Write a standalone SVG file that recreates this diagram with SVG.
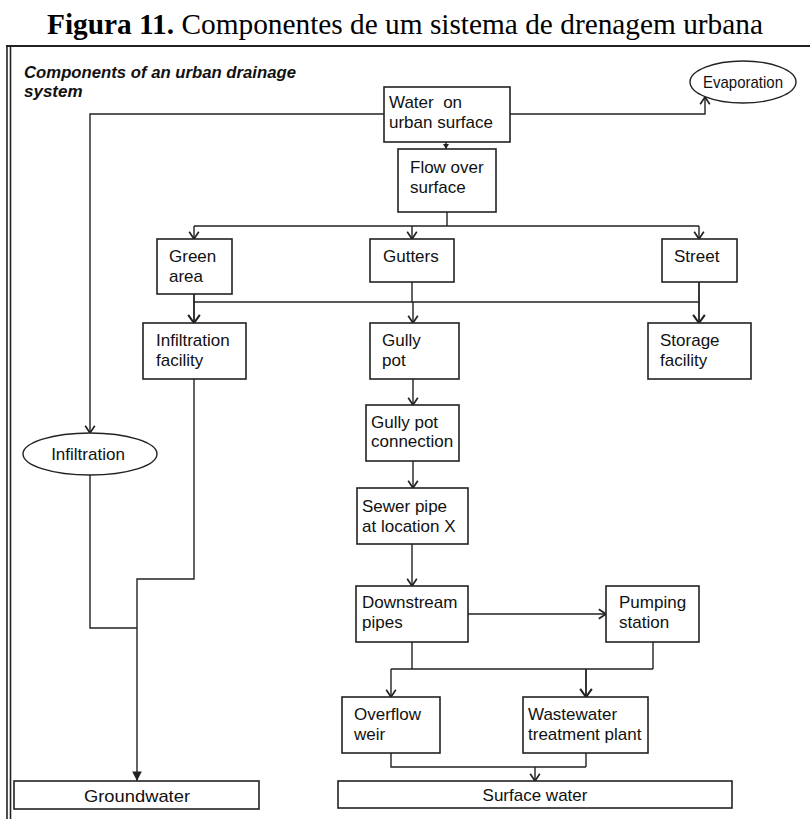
<svg xmlns="http://www.w3.org/2000/svg" width="810" height="819" viewBox="0 0 810 819">
  <style>
    .box { fill: #ffffff; stroke: #222222; stroke-width: 1.6; }
    .ell { fill: #ffffff; stroke: #222222; stroke-width: 1.4; }
    .lbl { font-family: "Liberation Sans", Arial, sans-serif; font-size: 17px; fill: #111111; }
    .mid { text-anchor: middle; }
    .wire { fill: none; stroke: #222222; stroke-width: 1.4; }
    .wire-open { marker-end: url(#open); }
    .wire-bold { stroke-width: 1.8; marker-end: url(#openBold); }
    .wire-solid { marker-end: url(#solid); }
    .frame { stroke: #222222; fill: none; }
    .title { font-family: "Liberation Serif", "Times New Roman", serif; font-size: 29px; fill: #000000; }
    .subtitle { font-family: "Liberation Sans", Arial, sans-serif; font-size: 17px; font-weight: bold; font-style: italic; fill: #111111; }
  </style>
  <defs>
    <marker id="open" markerUnits="userSpaceOnUse" markerWidth="12" markerHeight="12" viewBox="-7 -5 8 10" refX="0" refY="0" orient="auto">
      <path d="M-6,-4 L0,0 L-6,4" fill="none" stroke="#222222" stroke-width="1.4"/>
    </marker>
    <marker id="openBold" markerUnits="userSpaceOnUse" markerWidth="12" markerHeight="14" viewBox="-8 -6 9 12" refX="0" refY="0" orient="auto">
      <path d="M-7,-5 L0,0 L-7,5" fill="none" stroke="#222222" stroke-width="1.8"/>
    </marker>
    <marker id="solid" markerUnits="userSpaceOnUse" markerWidth="12" markerHeight="12" viewBox="-9 -5 10 10" refX="0" refY="0" orient="auto">
      <path d="M-8,-4 L0,0 L-8,4 Z" fill="#222222"/>
    </marker>
    <marker id="solidSmall" markerUnits="userSpaceOnUse" markerWidth="8" markerHeight="8" viewBox="-6 -4 7 8" refX="0" refY="0" orient="auto">
      <path d="M-5,-3 L0,0 L-5,3 Z" fill="#222222"/>
    </marker>
  </defs>

  <rect width="810" height="819" fill="#ffffff"/>

  <!-- caption -->
  <text class="title" x="47" y="34" textLength="716" lengthAdjust="spacingAndGlyphs"><tspan font-weight="bold">Figura 11.</tspan> Componentes de um sistema de drenagem urbana</text>

  <!-- frame -->
  <g id="frame" class="frame">
    <line x1="6" y1="46" x2="810" y2="46" stroke-width="2"/>
    <line x1="7" y1="46" x2="7" y2="819" stroke-width="1.6"/>
    <line x1="10.5" y1="46" x2="10.5" y2="819" stroke-width="1.6"/>
  </g>

  <text class="subtitle" x="24" y="78" textLength="272" lengthAdjust="spacingAndGlyphs">Components of an urban drainage</text>
  <text class="subtitle" x="24" y="97">system</text>

  <!-- connectors -->
  <g id="connectors">
    <path class="wire" d="M446,142 V149" marker-end="url(#solidSmall)"/>
    <path class="wire wire-open" d="M384,114 H90 V433"/>
    <path class="wire wire-open" d="M510,114 H705 V97"/>
    <path class="wire" d="M447,212 V226 M194,226 H699"/>
    <path class="wire wire-open" d="M194,226 V239"/>
    <path class="wire wire-open" d="M412,226 V239"/>
    <path class="wire wire-open" d="M699,226 V239"/>
    <path class="wire" d="M412,282 V302 M194,302 H699"/>
    <path class="wire wire-bold" d="M194,294 V323"/>
    <path class="wire wire-bold" d="M699,282 V323"/>
    <path class="wire wire-open" d="M413,302 V323"/>
    <path class="wire wire-open" d="M413,379 V405"/>
    <path class="wire wire-open" d="M413,461 V488"/>
    <path class="wire wire-open" d="M412,544 V586"/>
    <path class="wire wire-open" d="M468,614 H606"/>
    <path class="wire" d="M412,642 V669 M653,642 V669 M391,669 H653"/>
    <path class="wire wire-open" d="M391,669 V697"/>
    <path class="wire wire-bold" d="M586,669 V697"/>
    <path class="wire" d="M391,753 V767 H586 M586,753 V767"/>
    <path class="wire wire-open" d="M535,767 V781"/>
    <path class="wire" d="M90,475 V628 H137"/>
    <path class="wire wire-solid" d="M194,379 V579 H137 V781"/>
  </g>

  <!-- nodes -->
  <g id="evaporation">
    <ellipse class="ell" cx="743" cy="82" rx="53" ry="21"/>
    <text class="lbl" x="703" y="88" textLength="80" lengthAdjust="spacingAndGlyphs">Evaporation</text>
  </g>
  <g id="water-surface">
    <rect class="box" x="384" y="87" width="126" height="55"/>
    <text class="lbl" x="389" y="108" xml:space="preserve">Water  on</text>
    <text class="lbl" x="389" y="128">urban surface</text>
  </g>
  <g id="flow-over-surface">
    <rect class="box" x="398" y="149" width="98" height="63"/>
    <text class="lbl" x="410" y="173">Flow over</text>
    <text class="lbl" x="410" y="193">surface</text>
  </g>
  <g id="green-area">
    <rect class="box" x="157" y="239" width="75" height="55"/>
    <text class="lbl" x="169" y="262">Green</text>
    <text class="lbl" x="169" y="282">area</text>
  </g>
  <g id="gutters">
    <rect class="box" x="370" y="239" width="84" height="43"/>
    <text class="lbl" x="383" y="262">Gutters</text>
  </g>
  <g id="street">
    <rect class="box" x="662" y="239" width="75" height="43"/>
    <text class="lbl" x="674" y="262">Street</text>
  </g>
  <g id="infiltration-facility">
    <rect class="box" x="143" y="323" width="103" height="56"/>
    <text class="lbl" x="156" y="346">Infiltration</text>
    <text class="lbl" x="156" y="366">facility</text>
  </g>
  <g id="gully-pot">
    <rect class="box" x="370" y="323" width="89" height="56"/>
    <text class="lbl" x="382" y="346">Gully</text>
    <text class="lbl" x="382" y="366">pot</text>
  </g>
  <g id="storage-facility">
    <rect class="box" x="648" y="323" width="103" height="56"/>
    <text class="lbl" x="660" y="346">Storage</text>
    <text class="lbl" x="660" y="366">facility</text>
  </g>
  <g id="infiltration">
    <ellipse class="ell" cx="90" cy="454" rx="67" ry="21"/>
    <text class="lbl mid" x="88" y="460">Infiltration</text>
  </g>
  <g id="gully-pot-connection">
    <rect class="box" x="366" y="405" width="93" height="56"/>
    <text class="lbl" x="371" y="428">Gully pot</text>
    <text class="lbl" x="371" y="447">connection</text>
  </g>
  <g id="sewer-pipe">
    <rect class="box" x="357" y="488" width="111" height="56"/>
    <text class="lbl" x="362" y="512">Sewer pipe</text>
    <text class="lbl" x="362" y="532">at location X</text>
  </g>
  <g id="downstream-pipes">
    <rect class="box" x="356" y="586" width="112" height="56"/>
    <text class="lbl" x="362" y="608">Downstream</text>
    <text class="lbl" x="362" y="628">pipes</text>
  </g>
  <g id="pumping-station">
    <rect class="box" x="606" y="586" width="93" height="56"/>
    <text class="lbl" x="619" y="608">Pumping</text>
    <text class="lbl" x="619" y="628">station</text>
  </g>
  <g id="overflow-weir">
    <rect class="box" x="342" y="697" width="98" height="56"/>
    <text class="lbl" x="354" y="720">Overflow</text>
    <text class="lbl" x="354" y="740">weir</text>
  </g>
  <g id="wastewater-treatment-plant">
    <rect class="box" x="523" y="697" width="125" height="56"/>
    <text class="lbl" x="528" y="720">Wastewater</text>
    <text class="lbl" x="528" y="740">treatment plant</text>
  </g>
  <g id="groundwater">
    <rect class="box" x="14" y="781" width="245" height="28"/>
    <text class="lbl" x="84" y="802" textLength="106" lengthAdjust="spacingAndGlyphs">Groundwater</text>
  </g>
  <g id="surface-water">
    <rect class="box" x="338" y="781" width="394" height="27"/>
    <text class="lbl mid" x="535" y="801">Surface water</text>
  </g>
</svg>
